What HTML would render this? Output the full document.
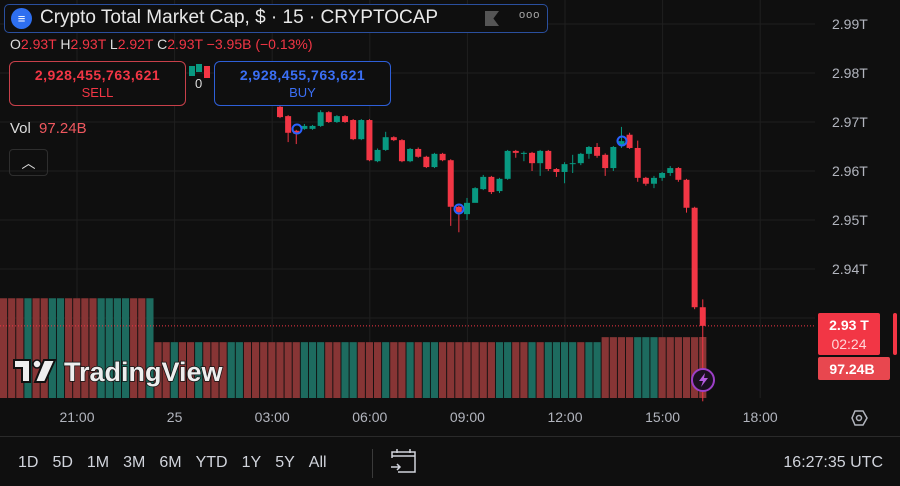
<!DOCTYPE html>
<html><head><meta charset="utf-8">
<style>
html,body{margin:0;padding:0;background:#0f0f0f;}
body{width:900px;height:486px;overflow:hidden;position:relative;font-family:"Liberation Sans","DejaVu Sans",sans-serif;}
svg{position:absolute;left:0;top:0;}
.t{font-family:"Liberation Sans","DejaVu Sans",sans-serif;}
</style></head>
<body>
<svg id="chart" width="900" height="486"></svg>
<script>
// ---- data ----
const timeLabels = ["21:00","25","03:00","06:00","09:00","12:00","15:00","18:00"];
const priceTicks = [2.99,2.98,2.97,2.96,2.95,2.94];
const priceTickLabels = ["2.99T","2.98T","2.97T","2.96T","2.95T","2.94T"];
const opens  = [2.9731,2.9712,2.9682,2.9686,2.9686,2.9692,2.9720,2.9700,2.9712,2.9704,2.9665,2.9704,2.9620,2.9643,2.9669,2.9663,2.9620,2.9645,2.9629,2.9608,2.9635,2.9622,2.9527,2.9512,2.9535,2.9563,2.9588,2.9559,2.9584,2.9641,2.9635,2.9637,2.9616,2.9641,2.9604,2.9598,2.9614,2.9616,2.9635,2.9649,2.9633,2.9606,2.9653,2.9674,2.9647,2.9586,2.9574,2.9586,2.9596,2.9606,2.9582,2.9525,2.9322];
const closes = [2.9710,2.9678,2.9676,2.9692,2.9692,2.9720,2.9700,2.9712,2.9700,2.9665,2.9704,2.9622,2.9643,2.9669,2.9663,2.9620,2.9645,2.9629,2.9608,2.9635,2.9622,2.9527,2.9516,2.9535,2.9565,2.9588,2.9557,2.9584,2.9641,2.9637,2.9637,2.9616,2.9641,2.9604,2.9598,2.9614,2.9616,2.9635,2.9649,2.9631,2.9606,2.9649,2.9661,2.9647,2.9586,2.9574,2.9586,2.9596,2.9606,2.9582,2.9525,2.9322,2.9284];
const highs  = [2.9735,2.9714,2.9684,2.9696,2.9694,2.9724,2.9722,2.9714,2.9714,2.9706,2.9706,2.9706,2.9646,2.9680,2.9671,2.9665,2.9647,2.9648,2.9631,2.9637,2.9637,2.9624,2.9529,2.9545,2.9567,2.9592,2.9590,2.9586,2.9643,2.9643,2.9640,2.9639,2.9643,2.9643,2.9606,2.9618,2.9633,2.9637,2.9651,2.9657,2.9636,2.9651,2.9690,2.9678,2.9662,2.9588,2.9590,2.9598,2.9610,2.9608,2.9584,2.9527,2.9338];
const lows   = [2.9708,2.9659,2.9655,2.9684,2.9684,2.9690,2.9698,2.9698,2.9698,2.9663,2.9663,2.9620,2.9618,2.9641,2.9661,2.9618,2.9618,2.9627,2.9606,2.9606,2.9620,2.9488,2.9475,2.9500,2.9545,2.9561,2.9553,2.9555,2.9582,2.9627,2.9620,2.9600,2.9590,2.9600,2.9588,2.9575,2.9596,2.9612,2.9625,2.9627,2.9590,2.9600,2.9647,2.9645,2.9578,2.9570,2.9565,2.9580,2.9590,2.9578,2.9515,2.9318,2.9130];
const volumes = [159,159,159,159,159,159,159,159,159,159,159,159,159,159,159,159,159,159,159,
 89,89,89,89,89,89,89,89,89,89,89,89,89,89,89,89,89,89,89,89,89,89,89,89,89,89,89,89,89,89,89,89,89,89,89,89,89,89,89,89,89,89,89,89,89,89,89,89,89,89,89,89,89,89,89,
 97,97,97,97,97,97,97,97,97,97,97,97,97.24];
const volDir = "dddudduudddduuuudduddudduddduuddddddduuudduudddudduduuddddddduudduduuuuduudddduuuddddd";
const lastPrice = 2.9284;

// ---- scales ----
const yP = v => 24 + (2.99 - v) * 4900;
const xC = i => 280 + i * 8.13;            // candle index -> x
const xT = i => 77 + i * 97.6;             // time label index -> x
const yV = v => 398 - v * (61 / 97.24);

const NS = "http://www.w3.org/2000/svg";
const svg = document.getElementById('chart');
function mk(tag, attrs, parent) {
  const e = document.createElementNS(NS, tag);
  for (const k in attrs) e.setAttribute(k, attrs[k]);
  (parent || svg).appendChild(e);
  return e;
}

// grid
const grid = mk('g', {});


timeLabels.forEach((t, i) => {
  mk('line', {x1: xT(i), x2: xT(i), y1: 0, y2: 398, stroke: '#1f1f1f', 'stroke-width': 1}, grid);
});
priceTicks.forEach(v => {
  mk('line', {x1: 0, x2: 815, y1: yP(v), y2: yP(v), stroke: '#1f1f1f', 'stroke-width': 1}, grid);
});
mk('line', {x1: 0, x2: 815, y1: yP(2.93), y2: yP(2.93), stroke: '#1f1f1f', 'stroke-width': 1}, grid);

// volume bars
const vg = mk('g', {});


const offset = volumes.length - opens.length;
volumes.forEach((v, k) => {
  const i = k - offset;
  const x = xC(i);
  const up = volDir[k] === 'u';
  const r = mk('rect', {x: x - 3.6, y: yV(v), width: 7.2, height: 398 - yV(v), fill: up ? '#1d6b5f' : '#873535'}, vg);
  
  
});

// last price line
const lp = mk('line', {x1: 0, x2: 815, y1: yP(lastPrice), y2: yP(lastPrice), stroke: '#f23645', 'stroke-width': 1, 'stroke-dasharray': '1 2'});



// candles
const cg = mk('g', {});


opens.forEach((o, i) => {
  const c = closes[i], x = xC(i);
  const up = c >= o;
  const col = up ? '#089981' : '#f23645';
  const g = mk('g', {}, cg);
  
  
  mk('line', {x1: x, x2: x, y1: yP(highs[i]), y2: yP(lows[i]), stroke: col, 'stroke-width': 1}, g);
  const top = yP(Math.max(o, c)), bot = yP(Math.min(o, c));
  mk('rect', {x: x - 3, y: top, width: 6, height: Math.max(1, bot - top), fill: col}, g);
});
// tiny candles behind header
[[192,'#089981',66,76],[199,'#089981',64,72],[207,'#f23645',66,78]].forEach(a=>{
  const r = mk('rect', {x: a[0]-3, y: a[2], width: 6, height: a[3]-a[2], fill: a[1]});
  
  
});

// markers
[[297,129],[459,209],[622,141]].forEach(m => {
  const c = mk('circle', {cx: m[0], cy: m[1], r: 4.5, fill: 'none', stroke: '#2962ff', 'stroke-width': 2});
  
  
});

// price axis labels
priceTickLabels.forEach((t, i) => {
  const e = mk('text', {x: 832, y: yP(priceTicks[i]) + 5, fill: '#b2b5be', 'font-size': 14, class: 't'});
  e.textContent = t;
  
  
});
// time labels
timeLabels.forEach((t, i) => {
  const e = mk('text', {x: xT(i), y: 422, fill: '#b2b5be', 'font-size': 14, 'text-anchor': 'middle', class: 't'});
  e.textContent = t;
  
  
});
</script>

<!-- static overlays -->
<svg width="900" height="486">
  <g>
    <circle cx="703" cy="380" r="11" fill="#1a1020" stroke="#9c3fc7" stroke-width="2"/>
    <path d="M705 373 L699 381 L703 381 L701 387 L708 378 L704 378 Z" fill="#b45be0"/>
  </g>
  <g>
    <rect x="818" y="313" width="62" height="42" rx="2" fill="#f23645"/>
    <text x="849" y="330" fill="#fff" font-size="14" font-weight="bold" text-anchor="middle" font-family="Liberation Sans, sans-serif">2.93 T</text>
    <text x="849" y="349" fill="#ffd6d9" font-size="14" text-anchor="middle" font-family="Liberation Sans, sans-serif">02:24</text>
  </g>
  <g>
    <rect x="818" y="357" width="72" height="23" rx="2" fill="#e8474f"/>
    <text x="852" y="374" fill="#fff" font-size="14" font-weight="bold" text-anchor="middle" font-family="Liberation Sans, sans-serif">97.24B</text>
  </g>
  <rect x="893" y="313" width="4" height="42" rx="2" fill="#f23645"/>
  <g>
    <polygon points="852,418 855,411 863,411 867,418 863,425 855,425" fill="none" stroke="#b2b5be" stroke-width="1.5"/>
    <circle cx="859" cy="418" r="2.5" fill="none" stroke="#b2b5be" stroke-width="1.5"/>
  </g>
  <line x1="0" y1="436.5" x2="900" y2="436.5" stroke="#2a2a2a"/>
  <line x1="372.5" y1="449" x2="372.5" y2="478" stroke="#3a3a3a"/>
  <g fill="none" stroke="#d1d4dc" stroke-width="1.5">
    <path d="M392 458 V452 H415 V472 H398"/>
    <line x1="392" y1="456" x2="415" y2="456"/>
    <line x1="397" y1="449" x2="397" y2="453"/>
    <line x1="410" y1="449" x2="410" y2="453"/>
    <path d="M391 467 H400 M397 464 L400 467 L397 470"/>
  </g>
  <g>
    <path d="M14 360 H30 V382 H22 V368 H14 Z" fill="#eee" stroke="#111" stroke-width="2"/>
    <circle cx="37" cy="364" r="4" fill="#eee" stroke="#111" stroke-width="1.5"/>
    <path d="M44 360 H55 L45 382 H35 Z" fill="#eee" stroke="#111" stroke-width="2"/>
    <text x="64" y="381" fill="#eee" stroke="#111" stroke-width="1.5" paint-order="stroke" font-size="27" font-weight="bold" font-family="Liberation Sans, sans-serif">TradingView</text>
  </g>
</svg>

<div style="position:absolute;left:4px;top:4px;width:542px;height:27px;border:1px solid #2a4f9e;border-radius:5px;background:#0f0f0f;">
  <div style="position:absolute;left:6px;top:3px;width:21px;height:21px;border-radius:50%;background:#2e6ff0;color:#fff;font-size:13px;text-align:center;line-height:21px;">≡</div>
  <div style="position:absolute;left:35px;top:2px;color:#e8e8e8;font-size:19px;white-space:nowrap;">Crypto Total Market Cap, $ · 15 · CRYPTOCAP</div>
  <div style="position:absolute;left:480px;top:6px;width:14px;height:15px;background:#555;clip-path:polygon(0 0,100% 0,60% 50%,100% 100%,0 100%);"></div>
  <div style="position:absolute;left:514px;top:4px;color:#aaa;font-size:11px;letter-spacing:1px;">ooo</div>
</div>
<div style="position:absolute;left:10px;top:36px;font-size:14px;white-space:nowrap;color:#f23645;">
  <span style="color:#ddd">O</span>2.93T <span style="color:#ddd">H</span>2.93T <span style="color:#ddd">L</span>2.92T <span style="color:#ddd">C</span>2.93T −3.95B (−0.13%)
</div>
<div style="position:absolute;left:9px;top:61px;width:175px;height:43px;border:1px solid #c8404a;border-radius:6px;background:#0f0f0f;text-align:center;color:#f23645;">
  <div style="font-size:14px;font-weight:bold;margin-top:5px;letter-spacing:0.5px;">2,928,455,763,621</div>
  <div style="font-size:13px;margin-top:2px;">SELL</div>
</div>
<div style="position:absolute;left:195px;top:76px;color:#ddd;font-size:13px;">0</div>
<div style="position:absolute;left:214px;top:61px;width:175px;height:43px;border:1px solid #2e5fd8;border-radius:6px;background:#0f0f0f;text-align:center;color:#3b6ff5;">
  <div style="font-size:14px;font-weight:bold;margin-top:5px;letter-spacing:0.5px;">2,928,455,763,621</div>
  <div style="font-size:13px;margin-top:2px;">BUY</div>
</div>
<div style="position:absolute;left:10px;top:120px;font-size:15px;color:#ddd;white-space:nowrap;">Vol <span style="color:#f0585f;margin-left:4px;">97.24B</span></div>
<div style="position:absolute;left:9px;top:149px;width:37px;height:25px;border:1px solid #2e2e2e;border-radius:4px;color:#ddd;text-align:center;font-size:14px;line-height:27px;">︿</div>
<div style="position:absolute;left:18px;top:454px;font-size:16px;color:#d1d4dc;white-space:nowrap;">
  <span style="margin-right:14px">1D</span><span style="margin-right:14px">5D</span><span style="margin-right:14px">1M</span><span style="margin-right:14px">3M</span><span style="margin-right:14px">6M</span><span style="margin-right:14px">YTD</span><span style="margin-right:14px">1Y</span><span style="margin-right:14px">5Y</span><span>All</span>
</div>
<div style="position:absolute;right:17px;top:454px;font-size:16px;color:#d1d4dc;">16:27:35 UTC</div>
</body></html>
